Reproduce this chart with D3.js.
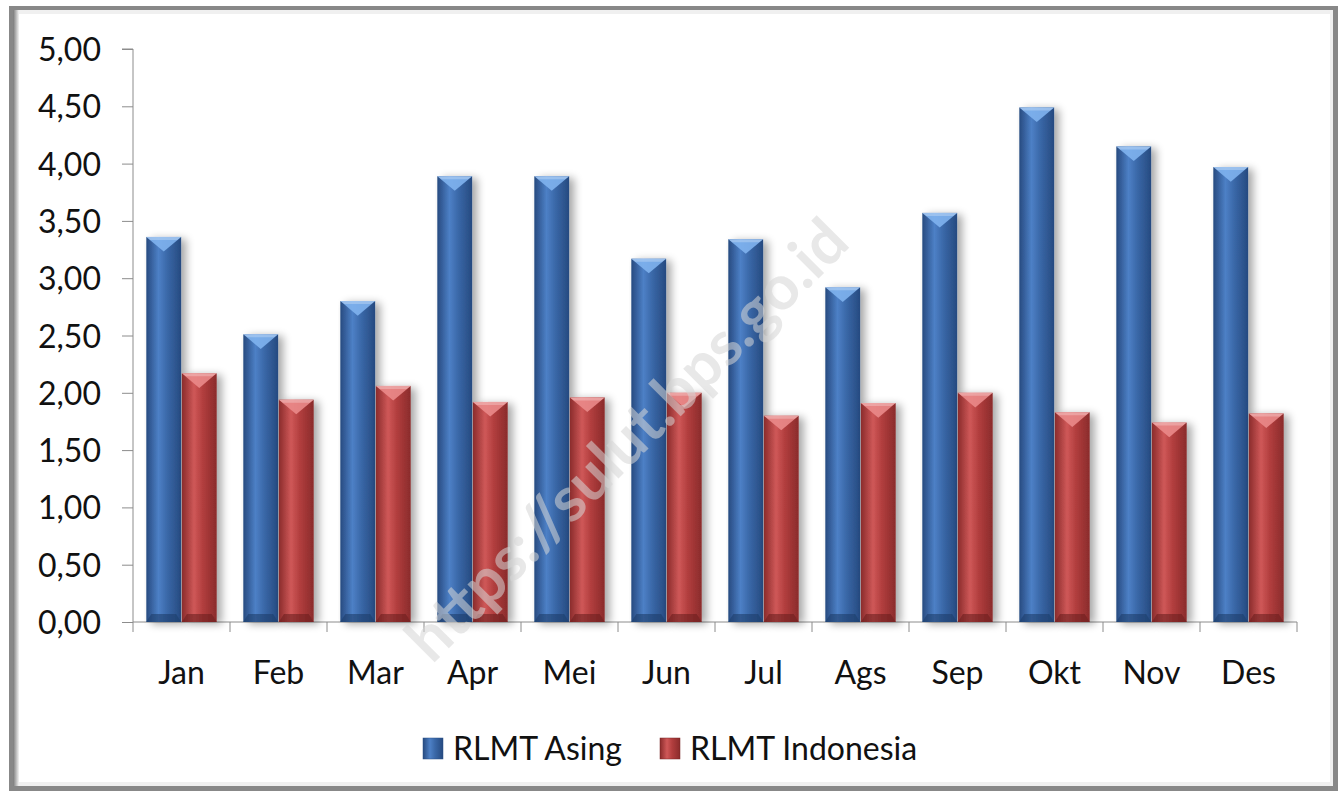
<!DOCTYPE html>
<html><head><meta charset="utf-8">
<script src="https://cdn.jsdelivr.net/npm/d3@7"></script>
<style>
html,body{margin:0;padding:0;background:#fff;}
svg{display:block;}
text{font-family:Lato,"Open Sans",sans-serif;}
</style></head>
<body>
<script>
const categories = ["Jan","Feb","Mar","Apr","Mei","Jun","Jul","Ags","Sep","Okt","Nov","Des"];
const seriesNames = ["RLMT Asing","RLMT Indonesia"];
const asing = [3.36,2.51,2.80,3.89,3.89,3.17,3.34,2.92,3.57,4.49,4.15,3.97];
const indonesia = [2.17,1.94,2.06,1.92,1.96,2.00,1.80,1.91,2.00,1.83,1.74,1.82];
const yTicks = [0,0.5,1,1.5,2,2.5,3,3.5,4,4.5,5];

const W = 1342, H = 799;
const svg = d3.select("body").append("svg").attr("width", W).attr("height", H);
const defs = svg.append("defs");

// frame
const fg = defs.append("linearGradient").attr("id","frameL").attr("x1","0").attr("x2","1");
fg.append("stop").attr("offset","0").attr("stop-color","#7a7a7a");
fg.append("stop").attr("offset","1").attr("stop-color","#f4f4f4");
svg.append("rect").attr("x",9).attr("y",6).attr("width",1329).attr("height",785).attr("fill","#888");
svg.append("rect").attr("x",13).attr("y",10).attr("width",1320).attr("height",776).attr("fill","#f0f0f0");
svg.append("rect").attr("x",18).attr("y",14).attr("width",1312).attr("height",768).attr("fill","#fff");
svg.append("rect").attr("x",13).attr("y",10).attr("width",6).attr("height",776).attr("fill","url(#frameL)");

// gradients
function cylGrad(id, dark, mid, light){
  const g = defs.append("linearGradient").attr("id",id).attr("x1","0").attr("x2","1");
  g.append("stop").attr("offset","0").attr("stop-color",dark);
  g.append("stop").attr("offset","0.35").attr("stop-color",light);
  g.append("stop").attr("offset","0.6").attr("stop-color",mid);
  g.append("stop").attr("offset","1").attr("stop-color",dark);
}
cylGrad("gBlue","#264a80","#3a68a8","#4d80c6");
cylGrad("gRed","#8a2b2b","#b23e3e","#cf5858");
const sh = defs.append("filter").attr("id","shadow").attr("x","-20%").attr("y","-5%").attr("width","160%").attr("height","115%");
sh.append("feGaussianBlur").attr("in","SourceAlpha").attr("stdDeviation",4);
sh.append("feOffset").attr("dx",5).attr("dy",2).attr("result","b");
sh.append("feComponentTransfer").append("feFuncA").attr("type","linear").attr("slope",0.35);
const mg = sh.append("feMerge"); mg.append("feMergeNode"); mg.append("feMergeNode").attr("in","SourceGraphic");

const x0 = 133, x1 = 1297, yTop = 49, yBot = 622;
const x = d3.scaleBand().domain(categories).range([x0,x1]).paddingInner(0).paddingOuter(0);
const xs = d3.scaleBand().domain(seriesNames).range([0,x.bandwidth()]).paddingInner(0.02).paddingOuter(0.375);
const y = d3.scaleLinear().domain([0,5]).range([yBot,yTop]);

// axes
const yAxis = d3.axisLeft(y).tickValues(yTicks).tickSize(11).tickPadding(21)
  .tickFormat(d => d3.format(".2f")(d).replace(".",","));
const ga = svg.append("g").attr("transform",`translate(${x0},0)`).call(yAxis);
ga.select(".domain").attr("stroke","#8c8c8c").attr("d",`M-11,${yTop}H0V${yBot}`);
ga.selectAll(".tick line").attr("stroke","#8c8c8c");
ga.selectAll(".tick text").attr("font-size",32).attr("fill","#111").attr("dy","0.36em");

const xAxis = d3.axisBottom(x).tickSize(0).tickPadding(39);
const gx = svg.append("g").attr("transform",`translate(0,${yBot})`).call(xAxis);
gx.select(".domain").attr("stroke","#8c8c8c").attr("d",`M${x0},0H${x1}`);
gx.selectAll(".tick text").attr("font-size",32).attr("fill","#111").attr("dy","0.71em");
gx.selectAll(".cat-tick").data(categories.concat(["_end"])).enter().append("line")
  .attr("x1",(d,i)=> i<categories.length? x(d) : x1).attr("x2",(d,i)=> i<categories.length? x(d) : x1)
  .attr("y1",0).attr("y2",10).attr("stroke","#8c8c8c");

// bars
const rows = categories.map((c,i)=>({c, vals:[{s:seriesNames[0],v:asing[i],g:"gBlue",tip:"#7fb2ee",base:"#1e3d6b"},{s:seriesNames[1],v:indonesia[i],g:"gRed",tip:"#ea8a8a",base:"#6d1f1f"}]}));
const gb = svg.append("g");
rows.forEach(r=>{
  r.vals.forEach(d=>{
    const bx = x(r.c)+xs(d.s), bw = xs.bandwidth(), by = y(d.v), bh = yBot - y(d.v);
    const g = gb.append("g").attr("filter","url(#shadow)");
    g.append("rect").attr("x",bx).attr("y",by).attr("width",bw).attr("height",bh).attr("fill",`url(#${d.g})`);
    g.append("path").attr("d",`M${bx},${by}H${bx+bw}L${bx+bw/2},${by+bw*0.42}Z`).attr("fill",d.tip).attr("opacity",0.9);
    g.append("path").attr("d",`M${bx},${by}H${bx+bw}L${bx+bw-4},${by+3}H${bx+4}Z`).attr("fill","#fff").attr("opacity",0.25);
    g.append("path").attr("d",`M${bx},${yBot}H${bx+bw}L${bx+bw-5},${yBot-8}H${bx+5}Z`).attr("fill",d.base).attr("opacity",0.6);
  });
});

// legend
const leg = svg.append("g");
const legItems = [{s:seriesNames[0],g:"gBlue",x:423},{s:seriesNames[1],g:"gRed",x:660}];
legItems.forEach(l=>{
  leg.append("rect").attr("x",l.x).attr("y",738).attr("width",20).attr("height",21).attr("fill",`url(#${l.g})`).attr("stroke",l.g==="gBlue"?"#2a4f86":"#7a2626").attr("stroke-width",0.5);
  leg.append("text").attr("x",l.x+30).attr("y",760).attr("font-size",32).attr("fill","#111").text(l.s);
});

// watermark
svg.append("text").attr("transform","translate(642,455) rotate(-45)").attr("text-anchor","middle")
  .attr("font-family","'Liberation Sans',Arial,sans-serif").attr("font-weight","bold").attr("font-size",62)
  .attr("fill","#d6d6d6").attr("opacity",0.55).text("https://sulut.bps.go.id");
</script>
</body></html>
